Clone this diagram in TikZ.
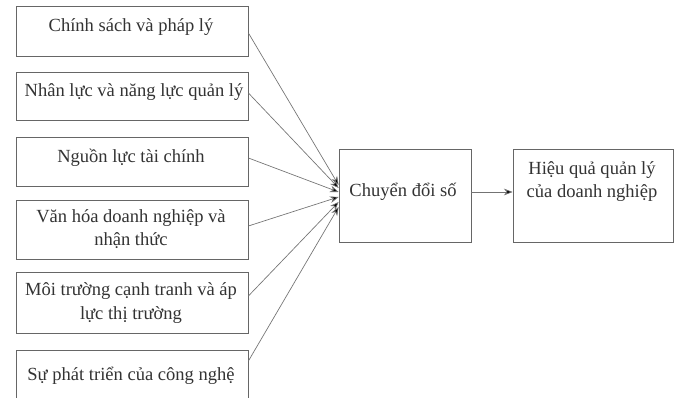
\documentclass[tikz,border=0pt]{standalone}
\usepackage{fontspec}
\setmainfont{Liberation Serif}
\usetikzlibrary{arrows.meta,calc}
\begin{document}
\begin{tikzpicture}[x=0.75pt,y=-0.75pt,
  box/.style={draw=black!60, line width=0.6pt, rectangle, inner sep=0pt, minimum width=174pt},
  txt/.style={text=black!80, font=\fontsize{13.9}{17.25}\selectfont, align=center, inner sep=0pt, anchor=base},
  conn/.style={draw=black!55, line width=0.5pt, -{Stealth[length=6.5pt,width=5pt,fill=black]}}]
\useasboundingbox (0,0) rectangle (679,398);
\fill[white] (0,0) rectangle (679,398);

\node[box, minimum height=37.5pt] (b1) at (132,31) {};
\node[box, minimum height=36pt] (b2) at (132,96) {};
\node[box, minimum height=36.75pt] (b3) at (132,161.5) {};
\node[box, minimum height=44.25pt] (b4) at (132,229.5) {};
\node[box, minimum height=45.75pt] (b5) at (132,302.5) {};
\node[box, minimum height=37.5pt] (b6) at (132,375) {};
\node[box, minimum width=99pt, minimum height=69.75pt] (m) at (405,195.5) {};
\node[box, minimum width=120pt, minimum height=69.75pt] (r) at (593,195.5) {};

\node[txt] (t1) at (131,32) {Chính sách và pháp lý};
\node[txt] (t2) at (134,97) {Nhân lực và năng lực quản lý};
\node[txt] (t3) at (131,162.5) {Nguồn lực tài chính};
\node[txt] (t4a) at (131,223) {Văn hóa doanh nghiệp và};
\node[txt] (t4b) at (131,246) {nhận thức};
\node[txt] (t5a) at (131,296) {Môi trường cạnh tranh và áp};
\node[txt] (t5b) at (131,320) {lực thị trường};
\node[txt] (t6) at (131,381) {Sự phát triển của công nghệ};
\node[txt] (tm) at (403,197) {Chuyển đổi số};
\node[txt] (tr1) at (592,175) {Hiệu quả quản lý};
\node[txt] (tr2) at (592,198) {của doanh nghiệp};

\draw[conn] ($(b1.east)+(0,2)$) -- ($(m.west)+(0,-10.5)$);
\draw[conn] ($(b2.east)+(0,-3)$) -- ($(m.west)+(0,-7.5)$);
\draw[conn] ($(b3.east)+(0,-3.5)$) -- ($(m.west)+(0,-3.5)$);
\draw[conn] ($(b4.east)+(0,-3.5)$) -- ($(m.west)+(0,1.5)$);
\draw[conn] ($(b5.east)+(0,-6.5)$) -- ($(m.west)+(0,6.5)$);
\draw[conn] ($(b6.east)+(0,-14)$) -- ($(m.west)+(0,11.5)$);
\draw[conn] ($(m.east)+(0,-3.5)$) -- ($(r.west)+(0,-3.5)$);
\end{tikzpicture}
\end{document}
